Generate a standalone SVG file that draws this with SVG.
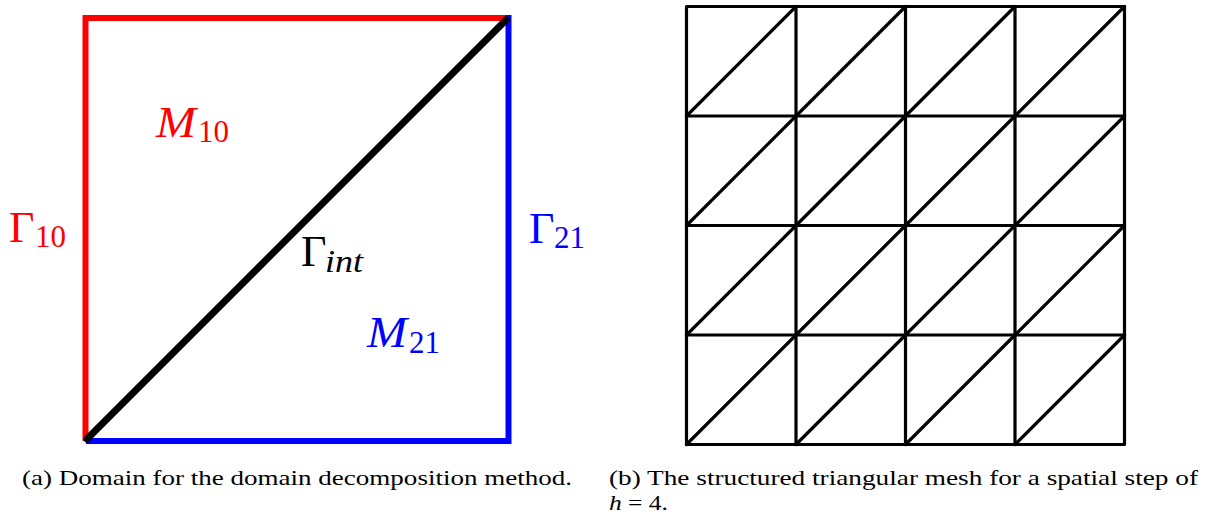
<svg xmlns="http://www.w3.org/2000/svg" width="1211" height="515" viewBox="0 0 1211 515">
<style>
.red{stroke:#ff0000;stroke-width:6;fill:none}
.blue{stroke:#0000ff;stroke-width:6;fill:none}
.diag{stroke:#000;stroke-width:7;fill:none;stroke-linecap:round}
.mesh{stroke:#000;stroke-width:3.2;fill:none;stroke-linecap:round;stroke-linejoin:round}
.m{font-family:"Liberation Serif","Times New Roman",serif;font-size:44px}
.sub{font-family:"Liberation Serif","Times New Roman",serif;font-size:31px}
.it{font-style:italic}
.cap{font-family:"Liberation Serif","Times New Roman",serif;font-size:21px;fill:#000}
</style>
<rect width="1211" height="515" fill="#fff"/>
<g id="domain">
  <g id="boundaries">
    <line class="red" x1="85.5" y1="18" x2="509" y2="18"/>
    <line class="red" x1="85.5" y1="15" x2="85.5" y2="441"/>
    <line class="blue" x1="508.5" y1="15" x2="508.5" y2="444"/>
    <line class="blue" x1="86" y1="441" x2="511" y2="441"/>
    <line class="diag" x1="87" y1="439" x2="506" y2="20"/>
  </g>
  <g id="label-gamma10" fill="#ff0000">
    <text class="m" x="9" y="242">Γ</text>
    <text class="sub" x="35" y="247">10</text>
  </g>
  <g id="label-m10" fill="#ff0000">
    <text class="m it" x="156" y="137" textLength="40" lengthAdjust="spacingAndGlyphs">M</text>
    <text class="sub" x="198" y="142">10</text>
  </g>
  <g id="label-gammaint" fill="#000">
    <text class="m" x="301" y="266">Γ</text>
    <text class="sub it" x="325" y="272" textLength="38" lengthAdjust="spacingAndGlyphs">int</text>
  </g>
  <g id="label-gamma21" fill="#0000ff">
    <text class="m" x="529" y="243">Γ</text>
    <text class="sub" x="554" y="248">21</text>
  </g>
  <g id="label-m21" fill="#0000ff">
    <text class="m it" x="367" y="347" textLength="40" lengthAdjust="spacingAndGlyphs">M</text>
    <text class="sub" x="409" y="353">21</text>
  </g>
</g>
<g id="mesh" class="mesh">
  <rect x="686.5" y="6.5" width="438" height="438"/>
  <path d="M796 6.5V444.5M905.5 6.5V444.5M1015 6.5V444.5"/>
  <path d="M686.5 116H1124.5M686.5 225.5H1124.5M686.5 335H1124.5"/>
  <path d="M686.5 116L796 6.5M796 116L905.5 6.5M905.5 116L1015 6.5M1015 116L1124.5 6.5"/>
  <path d="M686.5 225.5L796 116M796 225.5L905.5 116M905.5 225.5L1015 116M1015 225.5L1124.5 116"/>
  <path d="M686.5 335L796 225.5M796 335L905.5 225.5M905.5 335L1015 225.5M1015 335L1124.5 225.5"/>
  <path d="M686.5 444.5L796 335M796 444.5L905.5 335M905.5 444.5L1015 335M1015 444.5L1124.5 335"/>
</g>
<g id="captions">
  <text class="cap" x="22" y="485" textLength="550" lengthAdjust="spacingAndGlyphs">(a) Domain for the domain decomposition method.</text>
  <text class="cap" x="609" y="485" textLength="589" lengthAdjust="spacingAndGlyphs">(b) The structured triangular mesh for a spatial step of</text>
  <text class="cap" x="609" y="510" textLength="59" lengthAdjust="spacingAndGlyphs"><tspan font-style="italic">h</tspan> = 4.</text>
</g>
</svg>
